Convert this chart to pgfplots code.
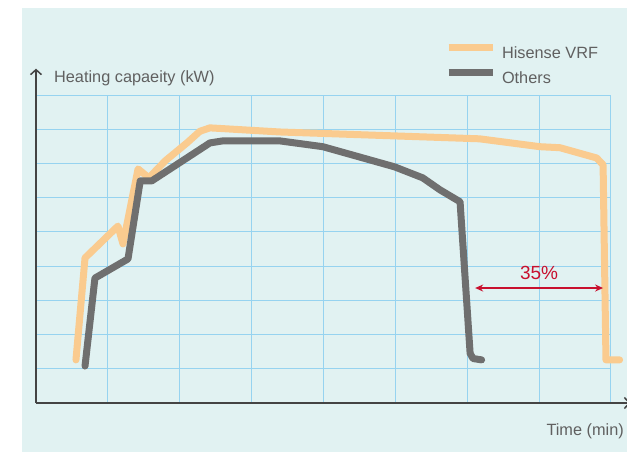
\documentclass[border=0pt]{standalone}
\usepackage{pgfplots}
\pgfplotsset{compat=1.18}
\usetikzlibrary{arrows.meta}
\usepackage{fontspec}
\setmainfont{Liberation Sans}
\definecolor{bgc}{HTML}{E1F2F2}
\definecolor{gridc}{HTML}{96D3F0}
\definecolor{hisc}{HTML}{FACB8F}
\definecolor{othc}{HTML}{6F6F6F}
\definecolor{txtc}{HTML}{606060}
\definecolor{axc}{HTML}{444444}
\definecolor{redc}{HTML}{C8102E}
\begin{document}
\begin{tikzpicture}
\path[use as bounding box] (0,0) rectangle (627bp,452bp);
\fill[bgc] (22bp,0) rectangle (627bp,444bp);
\begin{axis}[
 at={(36bp,49bp)}, anchor=south west,
 scale only axis, width=575bp, height=308bp,
 xmin=0, xmax=8, ymin=0, ymax=9,
 xtick={0,...,8}, ytick={0,...,9},
 xticklabels={}, yticklabels={},
 major tick length=0pt,
 grid=major, major grid style={gridc, line width=1bp},
 axis line style={draw=none},
 clip=false,
 font=\fontsize{16.3bp}{19bp}\selectfont,
 legend style={at={(0.711,1.099)}, anchor=west, draw=none, fill=none,
   inner sep=0pt, row sep=9bp,
   nodes={inner sep=0pt, text=txtc},
   /tikz/every odd column/.append style={column sep=6bp}},
 legend cell align=left,
 legend image code/.code={\draw[#1, line cap=butt] (0bp,5.5bp) -- (44bp,5.5bp);},
]
\addplot[hisc, line width=7bp, line cap=round, line join=round] coordinates {
 (0.556,1.26) (0.682,4.24) (1.14,5.17) (1.21,4.65) (1.42,6.84) (1.57,6.58)
 (1.80,7.08) (2.10,7.60) (2.28,7.94) (2.42,8.04) (3.39,7.92) (3.95,7.88)
 (6.17,7.72) (7.01,7.49) (7.29,7.46) (7.80,7.16)
 (7.89,6.96) (7.93,1.26) (8.12,1.26)};
\addlegendentry{Hisense VRF}
\addplot[othc, line width=7bp, line cap=round, line join=round] coordinates {
 (0.682,1.08) (0.82,3.65) (1.28,4.21) (1.45,6.49) (1.61,6.49) (1.80,6.75)
 (2.42,7.60) (2.60,7.66) (3.39,7.66) (3.99,7.49) (4.55,7.16) (4.99,6.90)
 (5.38,6.58) (5.62,6.23) (5.90,5.88)
 (6.04,1.45) (6.08,1.30) (6.20,1.26)};
\addlegendentry{Others}
\draw[axc, line width=1.5bp, -{Straight Barb[length=5bp,width=11bp]}] (axis cs:0,0) -- (axis cs:0,9.77);
\draw[axc, line width=1.5bp, -{Straight Barb[length=5bp,width=11bp]}] (axis cs:0,0) -- (axis cs:8.27,0);
\draw[redc, line width=1.2bp, {Stealth[length=8bp,width=7bp]}-{Stealth[length=8bp,width=7bp]}] (axis cs:6.11,3.36) -- (axis cs:7.89,3.36);
\node[redc, anchor=base, inner sep=0pt, font=\fontsize{19bp}{19bp}\selectfont] at (axis cs:7.0,3.60) {35\%};
\node[txtc, anchor=base west, inner sep=0pt] at (axis cs:0.25,9.36) {Heating capaeity (kW)};
\node[txtc, anchor=base west, inner sep=0pt] at (axis cs:7.10,-0.936) {Time (min)};
\end{axis}
\end{tikzpicture}
\end{document}
